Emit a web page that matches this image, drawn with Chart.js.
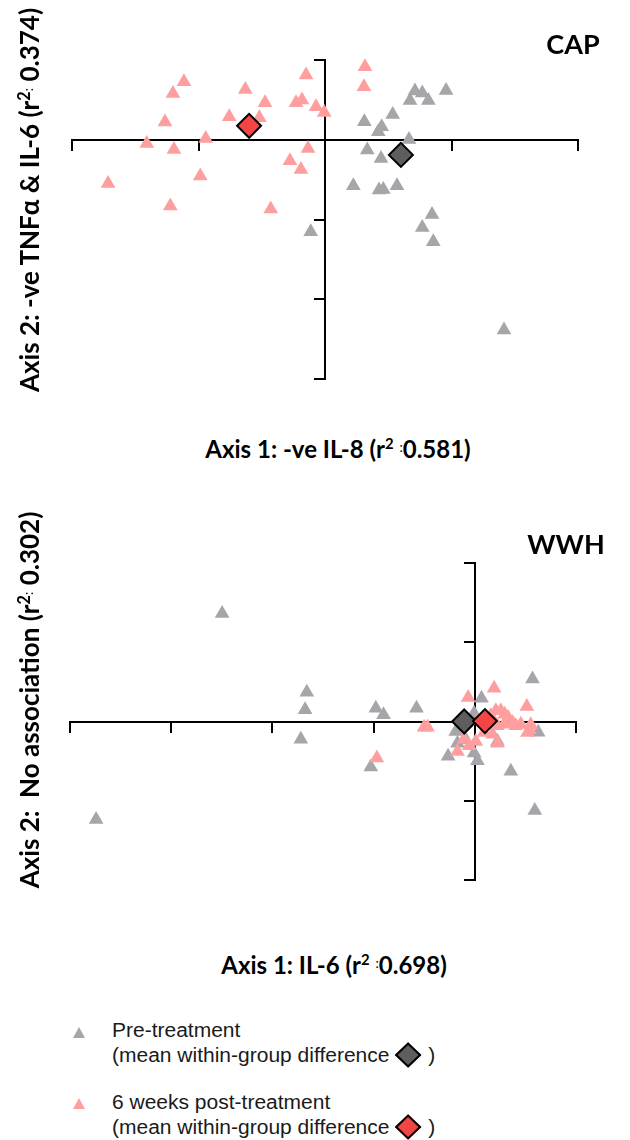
<!DOCTYPE html>
<html>
<head>
<meta charset="utf-8">
<script src="https://cdn.jsdelivr.net/npm/chart.js@4.4.0/dist/chart.umd.min.js"></script>
<style>
  html, body { margin: 0; padding: 0; background: #fff; }
  body { width: 630px; height: 1140px; position: relative; overflow: hidden; font-family: Lato, "Open Sans", sans-serif; }
  canvas { position: absolute; left: 0; }
  #capChart { top: 0; }
  #wwhChart { top: 500px; }
  .lbl { position: absolute; font-weight: 700; color: #000; white-space: nowrap; transform: translate(-50%, -50%); }
  .lbl.rot { transform: translate(-50%, -50%) rotate(-90deg); }
  .panel { font-size: 27px; }
  .axt { font-size: 24px; }
  .sup { font-size: 62%; vertical-align: 0.55em; line-height: 0; }
  .sc { font-size: 55%; vertical-align: 0.45em; line-height: 0; font-weight: 400; }
  .tri { position: absolute; width: 0; height: 0; border-left: 6.5px solid transparent; border-right: 6.5px solid transparent; }
  .legtxt { position: absolute; left: 112px; font-family: "Liberation Sans", Arial, sans-serif; font-size: 20px; line-height: 25px; color: #1a1a1a; white-space: nowrap; transform: scaleX(1.05); transform-origin: left top; }
  .dia { display: inline-block; width: 18px; height: 18px; box-sizing: border-box; border: 2px solid #000; transform: rotate(45deg); vertical-align: -2px; margin: 0 10px 0 9px; }
</style>
</head>
<body>
<canvas id="capChart" width="630" height="420"></canvas>
<canvas id="wwhChart" width="630" height="420"></canvas>

<div class="lbl panel" style="left:573px; top:43px;">CAP</div>
<div class="lbl rot axt" style="left:29px; top:200px; font-size:26px;">Axis 2: -ve TNFα &amp; IL-6 (r<span class="sup">2</span><span class="sc">:</span> 0.374)</div>
<div class="lbl axt" style="left:338px; top:448px;">Axis 1: -ve IL-8 (r<span class="sup">2</span> <span class="sc">:</span>0.581)</div>

<div class="lbl panel" style="left:566px; top:543px;">WWH</div>
<div class="lbl rot axt" style="left:29px; top:700px; font-size:26px;">Axis 2:&nbsp; No association (r<span class="sup">2</span><span class="sc">:</span> 0.302)</div>
<div class="lbl axt" style="left:334px; top:964px;">Axis 1: IL-6 (r<span class="sup">2</span> <span class="sc">:</span>0.698)</div>

<span class="tri" style="left:73px; top:1027px; border-bottom:11px solid #a6a6aa;"></span>
<div class="legtxt" style="top:1018px;">Pre-treatment<br>(mean within-group difference<span class="dia" style="background:#5e5e5e;"></span>)</div>
<span class="tri" style="left:73px; top:1098px; border-bottom:11px solid #ff9e9e;"></span>
<div class="legtxt" style="top:1090px;">6 weeks post-treatment<br>(mean within-group difference<span class="dia" style="background:#f44545;"></span>)</div>

<script>
// Colours of the two sampling times
const preColor = '#a6a6aa';
const postColor = '#ff9e9e';
const preMeanColor = '#5e5e5e';
const postMeanColor = '#f44545';

// CAP panel: ordination scores [axis 1, axis 2]
const capPre = [
  [0.957, 0.618], [0.711, 0.610], [0.769, 0.585], [0.672, 0.492], [0.817, 0.492],
  [0.535, 0.317], [0.311, 0.226], [0.448, 0.163], [0.421, 0.100], [0.664, 0.004],
  [0.334, -0.129], [0.443, -0.234], [0.224, -0.576], [0.427, -0.630], [0.461, -0.623],
  [0.569, -0.576], [0.846, -0.936], [0.769, -1.099], [0.856, -1.278], [-0.113, -1.153],
  [1.415, -2.385]
];
const capPost = [
  [-1.115, 0.727], [-1.202, 0.580], [-0.630, 0.630], [-0.150, 0.811], [-0.474, 0.464],
  [-0.229, 0.464], [-0.182, 0.497], [-0.071, 0.414], [-0.006, 0.342], [-0.757, 0.288],
  [-1.265, 0.222], [-0.519, 0.276], [-0.943, 0.016], [-1.409, -0.046], [-1.194, -0.122],
  [-0.134, -0.109], [-0.277, -0.263], [-0.190, -0.372], [-0.986, -0.455], [-1.715, -0.548],
  [-1.223, -0.831], [-0.429, -0.868], [0.316, 0.915], [0.308, 0.664]
];
const capPreMean = [0.60, -0.19];
const capPostMean = [-0.60, 0.175];
const capXTicks = [-2, -1, 0, 1, 2];
const capYTicks = [-3, -2, -1, 0, 1];

// WWH panel: ordination scores [axis 1, axis 2]
const wwhPre = [
  [-2.497, 1.362], [-1.660, 0.369], [-1.677, 0.147], [-1.719, -0.223], [-3.742, -1.236],
  [-0.978, 0.167], [-0.902, 0.084], [-0.576, 0.167], [-1.028, -0.575], [0.570, 0.537],
  [0.066, 0.293], [0.356, -0.629], [0.593, -1.123], [0.626, -0.135], [-0.264, -0.440],
  [-0.007, -0.399], [0.026, -0.494], [-0.188, -0.126], [-0.171, -0.273], [-0.089, -0.230],
  [0.224, -0.252], [-0.007, 0.104]
];
const wwhPost = [
  [-0.501, -0.072], [-0.467, -0.072], [-0.968, -0.462], [0.191, 0.419], [-0.066, 0.302],
  [0.514, 0.189], [0.455, -0.034], [0.553, -0.042], [0.540, -0.104], [0.010, -0.252],
  [0.224, -0.273], [-0.171, -0.377], [0.158, 0.072], [0.208, 0.135], [0.257, 0.135],
  [0.296, 0.092], [0.329, 0.050], [0.373, -0.013], [0.405, -0.054], [0.125, -0.034],
  [0.224, -0.054], [0.290, -0.034], [0.027, 0.009], [0.092, -0.138], [0.175, -0.160],
  [0.521, -0.138], [-0.106, -0.223], [-0.056, -0.306]
];
const wwhPreMean = [-0.105, 0.0];
const wwhPostMean = [0.10, 0.005];
const wwhXTicks = [-4, -3, -2, -1, 0, 1];
const wwhYTicks = [-2, -1, 0, 1, 2];

const toXY = arr => arr.map(([x, y]) => ({ x, y }));

// Axis crossing the other one at zero, tick marks only, no labels
function crossAxis(ticks, other) {
  return {
    type: 'linear',
    min: ticks[0],
    max: ticks[ticks.length - 1],
    position: { [other]: 0 },
    afterBuildTicks: s => { s.ticks = ticks.map(v => ({ value: v })); },
    ticks: { display: false },
    grid: { display: true, drawOnChartArea: false, drawTicks: true, tickLength: 10, color: '#000', lineWidth: 2 },
    border: { display: true, color: '#000', width: 2 }
  };
}

function triangles(data, color) {
  return {
    data: toXY(data), pointStyle: 'triangle', pointRadius: 8.5, pointHoverRadius: 8.5,
    backgroundColor: color, borderColor: color, borderWidth: 0, clip: false
  };
}
function diamond(pt, color) {
  return {
    data: toXY([pt]), pointStyle: 'rectRot', pointRadius: 12, pointHoverRadius: 12,
    backgroundColor: color, borderColor: '#000', borderWidth: 2, clip: false
  };
}

function panel(id, pre, post, preMean, postMean, xTicks, yTicks, padding) {
  new Chart(document.getElementById(id), {
    type: 'scatter',
    data: {
      datasets: [
        diamond(postMean, postMeanColor),
        diamond(preMean, preMeanColor),
        triangles(post, postColor),
        triangles(pre, preColor)
      ]
    },
    options: {
      responsive: false,
      animation: false,
      devicePixelRatio: 1,
      layout: { padding },
      plugins: { legend: { display: false }, tooltip: { enabled: false } },
      scales: { x: crossAxis(xTicks, 'y'), y: crossAxis(yTicks, 'x') }
    }
  });
}

panel('capChart', capPre, capPost, capPreMean, capPostMean, capXTicks, capYTicks,
  { left: 72, right: 52, top: 60, bottom: 41 });
panel('wwhChart', wwhPre, wwhPost, wwhPreMean, wwhPostMean, wwhXTicks, wwhYTicks,
  { left: 70, right: 54, top: 63, bottom: 40 });
</script>
</body>
</html>
